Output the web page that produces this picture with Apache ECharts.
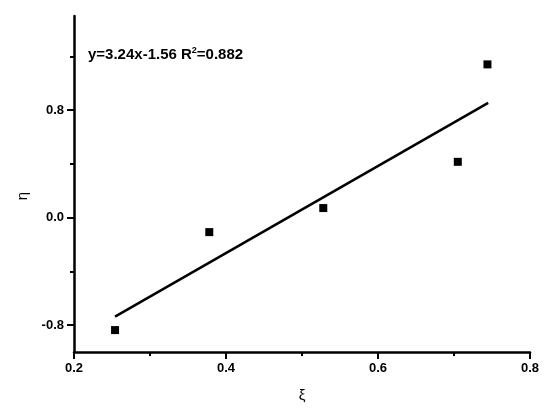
<!DOCTYPE html>
<html>
<head>
<meta charset="utf-8">
<script src="https://cdn.jsdelivr.net/npm/echarts@6/dist/echarts.min.js"></script>
<style>html,body{margin:0;padding:0;background:#fff;}#c{width:550px;height:416px;}</style>
</head>
<body>
<div id="c"></div>
<script>
var xiValues = [0.254, 0.378, 0.528, 0.705, 0.744];
var etaValues = [-0.837, -0.108, 0.071, 0.415, 1.14];
var fitX = [0.254, 0.745];
var fitY = [-0.737, 0.854];
var xTickLabels = [0.2, 0.4, 0.6, 0.8];
var yTickLabels = [-0.8, 0.0, 0.8];
var yMinorTicks = [-0.4, 0.4, 1.2];
var equationText = ['y=3.24x-1.56 R', '2', '=0.882'];

var font = 'Liberation Sans, Arial, sans-serif';
var chart = echarts.init(document.getElementById('c'), null, {renderer: 'canvas'});
chart.setOption({
  backgroundColor: '#fff',
  animation: false,
  title: {
    text: '{a|' + equationText[0] + '}{s|' + equationText[1] + '}{a|' + equationText[2] + '}',
    left: 88, top: 46, padding: 0,
    textStyle: {
      rich: {
        a: {fontFamily: font, fontSize: 15, fontWeight: 'bold', color: '#000'},
        s: {fontFamily: font, fontSize: 9, fontWeight: 'bold', color: '#000', verticalAlign: 'top', padding: [0, 0, 8, 0]}
      }
    }
  },
  grid: {left: 74, right: 20, top: 16, bottom: 64},
  xAxis: {
    type: 'value', min: 0.2, max: 0.8, interval: 0.2,
    name: 'ξ', nameLocation: 'middle', nameGap: 36,
    nameTextStyle: {fontFamily: font, fontSize: 15, color: '#000'},
    splitLine: {show: false},
    axisLine: {onZero: false, lineStyle: {color: '#000', width: 2.5}},
    axisTick: {inside: false, length: 7, lineStyle: {color: '#000', width: 2}},
    minorTick: {show: true, splitNumber: 2, length: 4, lineStyle: {color: '#000', width: 2}},
    axisLabel: {
      margin: 10, fontFamily: font, fontSize: 13, fontWeight: 'bold', color: '#000',
      customValues: xTickLabels,
      formatter: function (v) { return v.toFixed(1); }
    }
  },
  yAxis: [{
    type: 'value', min: -1.0, max: 1.5,
    name: 'η', nameLocation: 'middle', nameGap: 44,
    nameTextStyle: {fontFamily: font, fontSize: 15, color: '#000', padding: [0, 24, 0, 0]},
    splitLine: {show: false},
    axisLine: {onZero: false, lineStyle: {color: '#000', width: 2.5}},
    axisTick: {length: 7, customValues: yTickLabels, lineStyle: {color: '#000', width: 2}},
    axisLabel: {
      margin: 10, fontFamily: font, fontSize: 13, fontWeight: 'bold', color: '#000',
      customValues: yTickLabels,
      formatter: function (v) { return v.toFixed(1); }
    }
  }, {
    type: 'value', min: -1.0, max: 1.5, position: 'left',
    splitLine: {show: false},
    axisLine: {show: false},
    axisLabel: {show: false},
    axisTick: {length: 4, customValues: yMinorTicks, lineStyle: {color: '#000', width: 2}}
  }],
  series: [{
    type: 'scatter',
    data: xiValues.map(function (x, i) { return [x, etaValues[i]]; }),
    symbol: 'rect', symbolSize: 8,
    itemStyle: {color: '#000', opacity: 1}
  }, {
    type: 'line',
    data: fitX.map(function (x, i) { return [x, fitY[i]]; }),
    symbol: 'none',
    lineStyle: {color: '#000', width: 2.5}
  }]
});
</script>
</body>
</html>
